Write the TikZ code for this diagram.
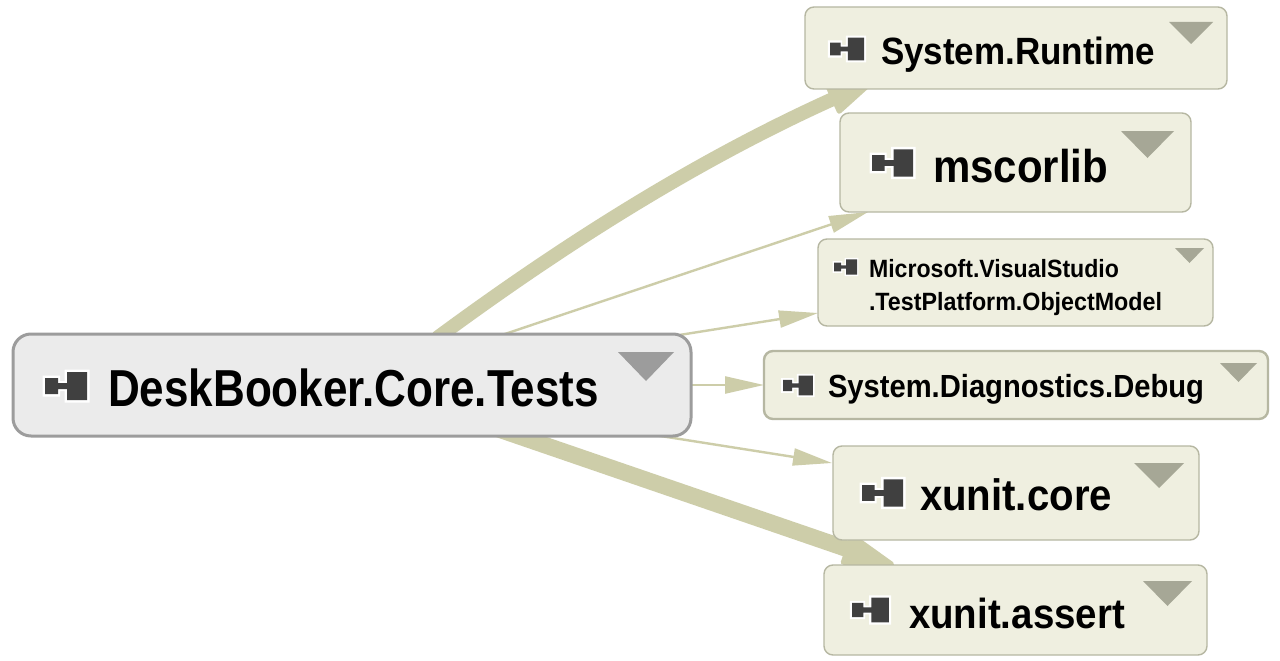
\documentclass[tikz,border=0pt]{standalone}
\usepackage{graphicx}
\usepackage{fontspec}
\setmainfont{Liberation Sans}[BoldFont={* Bold}]
\usetikzlibrary{arrows.meta,calc,backgrounds}
\newsavebox{\lblbox}
\newcommand{\fitw}[3]{\fontsize{#2}{#2}\selectfont\bfseries\sbox{\lblbox}{#3}\pgfmathsetmacro{\sx}{#1/\the\wd\lblbox}\scalebox{\sx}[1]{\usebox{\lblbox}}}
\definecolor{edgecol}{HTML}{CDCDA9}
\definecolor{boxfill}{HTML}{EFEFE0}
\definecolor{boxline}{HTML}{B6B7A2}
\definecolor{trifill}{HTML}{A6A796}
\definecolor{rootfill}{HTML}{EBEBEB}
\definecolor{rootline}{HTML}{9C9C9C}
\definecolor{icondark}{HTML}{404040}
\tikzset{
  x=1pt,y=-1pt,
  asmbox/.style={draw=boxline,fill=boxfill,line width=1.4pt,rounded corners=9pt,inner sep=0pt,outer sep=0pt},
  rootbox/.style={draw=rootline,fill=rootfill,line width=3pt,rounded corners=18pt,inner sep=0pt,outer sep=0pt},
  lbl/.style={anchor=base west,inner sep=0pt,outer sep=0pt,text=black},
  tri/.style={fill=trifill},
  thinedge/.style={draw=edgecol,line width=2.4pt,-{Triangle[length=39pt,width=17pt]}},
  thickedge/.style 2 args={draw=edgecol,line width=#1,-{Triangle[length=#2,width=33pt,line width=5pt,round]}},
  pics/asm/.style={code={
    \fill[white] (-2.5,-10.5) rectangle (15,10.5) (11,-5) rectangle (24,5) (19.5,-16.5) rectangle (44.5,16.5);
    \fill[icondark] (0,-8) rectangle (13,8) (13,-3) rectangle (22,3) (22,-14) rectangle (42,14);
  }}
}
\begin{document}
\begin{tikzpicture}
\useasboundingbox (0,0) rectangle (1280,661);
% boxes
\node[rootbox,minimum width=678pt,minimum height=102pt] (root) at (352,385) {};
\node[asmbox,minimum width=422pt,minimum height=82pt] (sr) at (1016,48) {};
\node[asmbox,minimum width=351pt,minimum height=99pt] (ms) at (1015.5,162.5) {};
\node[asmbox,minimum width=395pt,minimum height=87pt] (vs) at (1015.5,282.5) {};
\node[asmbox,line width=2.4pt,minimum width=504pt,minimum height=68pt] (dg) at (1016,385) {};
\node[asmbox,minimum width=366pt,minimum height=94pt] (co) at (1016,493) {};
\node[asmbox,minimum width=383pt,minimum height=90pt] (as) at (1015.5,610) {};
% triangles
\fill[fill=rootline] (618,352) -- (674,352) -- (646,381) -- cycle;
\fill[tri] (1169,22) -- (1213,22) -- (1191,44) -- cycle;
\fill[tri] (1121,131) -- (1174,131) -- (1147.5,158) -- cycle;
\fill[tri] (1175,248) -- (1204,248) -- (1189.5,263) -- cycle;
\fill[tri] (1220,363) -- (1257,363) -- (1238.5,382) -- cycle;
\fill[tri] (1134,463) -- (1184,463) -- (1159,488) -- cycle;
\fill[tri] (1143,581) -- (1192,581) -- (1167.5,606) -- cycle;
% icons
\pic[scale=1] at (45,386) {asm};
\pic[scale=0.81] at (830,49) {asm};
\pic[scale=0.98] at (872,163) {asm};
\pic[scale=0.55] at (834,267) {asm};
\pic[scale=0.71] at (783,385.5) {asm};
\pic[scale=0.98] at (862,493) {asm};
\pic[scale=0.88] at (852,610) {asm};
% labels
\node[lbl] (lroot) at (108,406) {\fitw{491}{52}{DeskBooker.Core.Tests}};
\node[lbl] (lsr) at (881,65) {\fitw{274}{38}{System.Runtime}};
\node[lbl] (lms) at (933,182) {\fitw{175}{46}{mscorlib}};
\node[lbl] (lvs1) at (869,277) {\fitw{250}{25}{Microsoft.VisualStudio}};
\node[lbl] (lvs2) at (869,310) {\fitw{293}{25}{.TestPlatform.ObjectModel}};
\node[lbl] (ldg) at (828,397) {\fitw{376}{32}{System.Diagnostics.Debug}};
\node[lbl] (lco) at (920,510) {\fitw{192}{44}{xunit.core}};
\node[lbl] (las) at (909,628) {\fitw{216}{42}{xunit.assert}};
% connectors
\begin{scope}[on background layer]
\fill[white] (0,0) rectangle (1280,661);
\draw[thickedge={14pt}{54pt}] ($(root.north west)+(424,4)$) .. controls (590,225) and (720,150) .. ($(sr.south west)+(70,-9)$);
\draw[thinedge] ($(root.north west)+(480,4)$) -- ($(ms.south west)+(28,0)$);
\draw[thinedge] ($(root.north west)+(660,2)$) -- ($(vs.south west)+(0,-13)$);
\draw[thinedge] (root.east) -- (dg.west);
\draw[thinedge] ($(root.south east)+(-43,-2)$) -- ($(co.north west)+(-1,17)$);
\draw[thickedge={16.5pt}{58pt}] ($(root.south west)+(482,-8)$) -- ($(as.north west)+(70,0)$);
\end{scope}
\end{tikzpicture}
\end{document}
